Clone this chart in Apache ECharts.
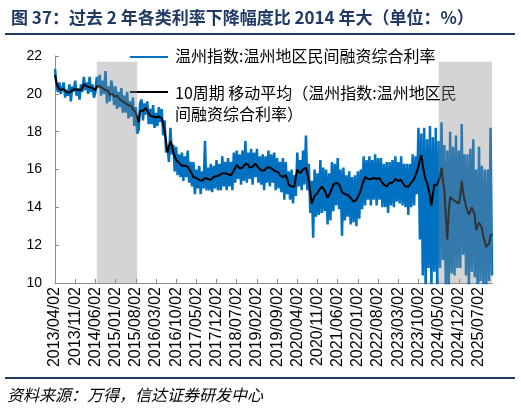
<!DOCTYPE html>
<html>
<head>
<meta charset="utf-8">
<script src="https://cdn.jsdelivr.net/npm/echarts@6/dist/echarts.min.js"></script>
<style>
  html, body { margin: 0; padding: 0; background: #fff; }
  #chart { width: 521px; height: 410px; }
</style>
</head>
<body>
<div id="chart"></div>
<script>
// 半月一个点：每月 02 日和 17 日，2013/04 - 2025/11
const startYear = 2013;
const startMonth = 4;
const monthCount = 152;
const dayMarks = ['02', '17'];

const categories = [];
for (let m = 0; m < monthCount; m++) {
  const y = startYear + Math.floor((startMonth - 1 + m) / 12);
  const mm = ((startMonth - 1 + m) % 12) + 1;
  dayMarks.forEach(d => categories.push(y + '/' + (mm < 10 ? '0' + mm : mm) + '/' + d));
}

const xTickLabels = [
  '2013/04/02', '2013/11/02', '2014/06/02', '2015/01/02', '2015/08/02', '2016/03/02',
  '2016/10/02', '2017/05/02', '2017/12/02', '2018/07/02', '2019/02/02', '2019/09/02',
  '2020/04/02', '2020/11/02', '2021/06/02', '2022/01/02', '2022/08/02', '2023/03/02',
  '2023/10/02', '2024/05/02', '2024/12/02', '2025/07/02'
];

const seriesNames = [
  '温州指数:温州地区民间融资综合利率',
  '10周期 移动平均（温州指数:温州地区民间融资综合利率）'
];

// 温州指数
const wenzhouIndex = [
  21.3,20.5, 20.1,20.6, 20.0,20.3, 20.6,19.8, 20.2,19.9, 20.5,19.6, 20.4,20.1, 20.7,19.9, 20.3,19.7, 20.5,20.1,
  20.9,20.2, 20.6,20.0, 20.9,20.1, 20.5,19.8, 20.1,20.9, 20.3,21.0, 19.9,20.7, 20.0,21.2, 19.5,20.4, 19.6,20.7,
  20.3,19.4, 20.4,19.2, 20.1,19.3, 20.3,19.0, 19.9,19.0, 20.1,18.7, 19.6,18.8, 19.8,18.3, 19.3,17.9, 18.1,19.5,
  19.7,18.6, 19.5,18.9, 19.6,18.4, 19.2,18.4, 19.4,18.2, 19.0,18.3, 19.3,18.5, 19.2,17.8, 18.6,16.9, 17.2,16.4,
  18.2,16.8, 17.3,15.9, 17.2,15.7, 16.8,15.6, 16.9,15.4, 16.7,15.6, 17.0,15.3, 16.4,15.1, 16.4,14.7, 16.0,15.0,
  16.2,14.7, 15.9,15.0, 17.5,14.9, 16.1,14.9, 16.3,14.8, 16.2,15.0, 16.5,14.9, 16.3,14.9, 16.7,15.1, 16.4,14.9,
  16.6,15.1, 16.4,14.9, 16.9,15.3, 17.0,15.5, 16.8,15.2, 17.0,15.4, 17.5,15.3, 16.9,15.5, 17.1,15.2, 16.9,15.6,
  17.1,15.3, 16.7,15.2, 16.8,14.9, 16.7,15.3, 17.0,15.1, 16.8,15.3, 16.9,14.9, 16.6,15.0, 16.4,14.8, 16.6,14.4,
  16.4,14.7, 15.9,14.4, 16.0,14.2, 15.7,14.6, 16.9,15.1, 16.5,14.9, 17.0,15.2, 17.8,14.9, 16.3,13.7, 15.4,12.4,
  16.0,13.5, 15.8,13.6, 16.5,13.7, 16.1,13.8, 16.0,13.1, 15.8,13.3, 16.4,13.8, 16.3,14.1, 16.6,13.9, 16.0,12.5,
  16.1,13.3, 15.7,13.5, 15.9,13.1, 15.6,13.2, 15.7,13.0, 15.9,13.4, 16.0,13.9, 16.7,14.1, 16.5,14.4, 16.7,14.1,
  16.5,14.4, 16.8,14.1, 16.6,14.4, 16.6,14.0, 16.3,14.0, 16.4,13.7, 16.4,14.1, 16.5,14.0, 16.7,14.3, 16.4,14.2,
  16.7,14.1, 16.3,14.0, 16.3,13.6, 16.3,14.0, 16.8,14.1, 16.7,14.7, 18.2,12.3, 17.9,10.4, 18.2,9.5, 17.6,10.8,
  18.3,9.5, 17.7,10.6, 18.2,9.6, 17.5,10.8, 18.5,11.2, 17.3,9.5, 17.0,9.7, 18.0,10.5, 17.2,10.4, 17.8,10.8,
  17.0,10.8, 18.4,11.5, 16.8,10.4, 16.8,9.6, 17.1,10.6, 17.6,10.3, 16.0,9.5, 17.2,10.1, 16.2,9.9, 16.0,9.5,
  16.0,10.1, 18.2,10.4
];

// 10周期移动平均
const movingAvg = [
  21.0,20.6, 20.35,20.25, 20.2,20.15, 20.25,20.2, 20.1,20.15, 20.05,20.1, 20.2,20.3, 20.25,20.15, 20.2,20.1, 20.2,20.35,
  20.5,20.45, 20.4,20.45, 20.35,20.4, 20.3,20.25, 20.2,20.4, 20.5,20.4, 20.45,20.3, 20.35,20.2, 20.1,20.15, 19.95,19.9,
  20.0,19.85, 19.75,19.9, 19.8,19.7, 19.75,19.6, 19.6,19.5, 19.55,19.4, 19.3,19.35, 19.2,19.1, 19.0,18.9, 18.5,19.1,
  19.2,19.1, 19.2,19.25, 19.1,19.0, 18.85,18.75, 18.8,18.7, 18.75,18.65, 18.8,18.9, 18.7,18.45, 18.0,17.5, 16.9,17.2,
  17.5,17.3, 16.9,16.7, 16.5,16.4, 16.35,16.3, 16.2,16.25, 16.2,16.1, 16.15,16.1, 15.9,15.8, 15.6,15.5, 15.55,15.45,
  15.45,15.5, 15.4,15.5, 15.55,15.6, 15.5,15.4, 15.45,15.5, 15.6,15.55, 15.65,15.6, 15.7,15.75, 15.8,15.7, 15.8,15.85,
  15.75,15.7, 15.7,15.8, 15.95,16.1, 16.25,16.15, 16.05,16.1, 16.1,16.2, 16.3,16.35, 16.25,16.1, 16.1,16.15, 16.2,16.3,
  16.25,16.1, 16.0,15.95, 15.9,15.95, 16.0,16.1, 16.05,16.1, 16.1,16.0, 15.95,15.9, 15.9,15.85, 15.7,15.6, 15.6,15.7,
  15.7,15.5, 15.2,15.1, 15.1,15.1, 15.1,15.6, 16.0,15.9, 15.8,15.9, 16.0,16.1, 16.1,15.8, 15.4,14.8, 14.2,14.4,
  14.6,14.7, 14.75,14.9, 15.0,15.1, 15.1,14.9, 14.7,14.5, 14.5,14.8, 15.0,15.2, 15.2,15.3, 15.35,15.2, 15.0,14.8,
  14.75,14.7, 14.6,14.65, 14.6,14.5, 14.4,14.3, 14.3,14.4, 14.5,14.7, 14.9,15.2, 15.4,15.6, 15.6,15.5, 15.45,15.5,
  15.5,15.55, 15.6,15.5, 15.6,15.55, 15.4,15.3, 15.2,15.1, 15.1,15.2, 15.3,15.35, 15.3,15.4, 15.5,15.45, 15.4,15.45,
  15.45,15.3, 15.2,15.1, 15.0,15.1, 15.2,15.3, 15.4,15.5, 15.6,15.9, 16.15,16.5, 16.75,16.2, 15.8,15.45, 15.3,15.2,
  14.6,14.1, 14.7,15.2, 15.3,15.2, 15.1,15.6, 16.1,15.4, 14.9,13.5, 12.3,13.8, 14.55,14.5, 14.4,14.35, 14.3,14.2,
  14.2,14.6, 15.4,14.8, 14.4,14.05, 13.8,13.6, 13.8,14.0, 14.05,13.6, 12.8,13.0, 13.2,13.3, 12.9,12.45, 12.2,11.9,
  11.8,12.1, 12.5,12.6
];

// 灰色阴影区间
const shadeRanges = [
  ['2014/06/17', '2015/08/17'],
  ['2024/05/02', '2025/11/17']
];
const shadeTop = 21.7;

const navy = '#1f3a64';
const numFont = '"Liberation Sans", Arial, sans-serif';
const cjkFont = '"Noto Sans CJK SC", sans-serif';

const chart = echarts.init(document.getElementById('chart'));

const option = {
  animation: false,
  backgroundColor: '#fff',
  title: {
    text: '图 37：过去 2 年各类利率下降幅度比 2014 年大（单位：%）',
    left: 6,
    top: 4,
    textStyle: { fontFamily: cjkFont, fontSize: 17, fontWeight: 'bold', color: navy }
  },
  grid: { left: 55, right: 29, top: 56, bottom: 127 },
  xAxis: {
    type: 'category',
    data: categories,
    boundaryGap: false,
    axisLine: { lineStyle: { color: '#8c8c8c' } },
    axisTick: {
      inside: true,
      length: 4,
      interval: (i, v) => xTickLabels.indexOf(v) >= 0,
      lineStyle: { color: '#8c8c8c' }
    },
    axisLabel: {
      interval: (i, v) => xTickLabels.indexOf(v) >= 0,
      rotate: 90,
      margin: 4,
      fontFamily: numFont,
      fontSize: 16,
      color: '#000'
    }
  },
  yAxis: {
    type: 'value',
    min: 10,
    max: 22,
    interval: 2,
    axisLine: { show: true, lineStyle: { color: '#8c8c8c' } },
    axisTick: { show: true, inside: true, length: 4, lineStyle: { color: '#8c8c8c' } },
    splitLine: { show: false },
    axisLabel: { margin: 13, fontFamily: numFont, fontSize: 14, color: '#000' }
  },
  series: [
    {
      name: seriesNames[0],
      type: 'line',
      data: wenzhouIndex,
      symbol: 'none',
      lineStyle: { color: '#0070c0', width: 2.5 }
    },
    {
      name: seriesNames[1],
      type: 'line',
      data: movingAvg,
      symbol: 'none',
      lineStyle: { color: '#000', width: 2 }
    },
    {
      // 半透明灰色阴影，放在上一层盖住折线
      type: 'custom',
      zlevel: 1,
      silent: true,
      data: shadeRanges.map(r => [categories.indexOf(r[0]), categories.indexOf(r[1]), shadeTop]),
      encode: { x: [0, 1], y: 2 },
      renderItem: (params, api) => {
        const p0 = api.coord([api.value(0), 10]);
        const p1 = api.coord([api.value(1), api.value(2)]);
        return {
          type: 'rect',
          shape: { x: p0[0], y: p1[1], width: p1[0] - p0[0], height: p0[1] - p1[1] },
          style: { fill: 'rgba(138,138,138,0.37)' }
        };
      }
    }
  ],
  graphic: [
    { type: 'line', shape: { x1: 5, y1: 34, x2: 515, y2: 34 }, style: { stroke: navy, lineWidth: 2 } },
    { type: 'line', shape: { x1: 5, y1: 378, x2: 515, y2: 378 }, style: { stroke: navy, lineWidth: 2 } },
    // 图例
    { type: 'line', z: 20, shape: { x1: 130, y1: 57, x2: 168, y2: 57 }, style: { stroke: '#0070c0', lineWidth: 2 } },
    {
      type: 'text', z: 20, left: 175, top: 48,
      style: { text: seriesNames[0], font: '16px ' + cjkFont, fill: '#000' }
    },
    { type: 'line', z: 20, shape: { x1: 130, y1: 92, x2: 168, y2: 92 }, style: { stroke: '#000', lineWidth: 2 } },
    {
      type: 'text', z: 20, left: 175, top: 82,
      style: {
        text: '10周期 移动平均（温州指数:温州地区民\n间融资综合利率）',
        font: '16px ' + cjkFont, lineHeight: 21, fill: '#000'
      }
    },
    {
      type: 'text', left: 7, top: 387,
      style: { text: '资料来源：万得，信达证券研发中心', font: 'italic 16px ' + cjkFont, fill: '#000' }
    }
  ]
};

chart.setOption(option);
</script>
</body>
</html>
